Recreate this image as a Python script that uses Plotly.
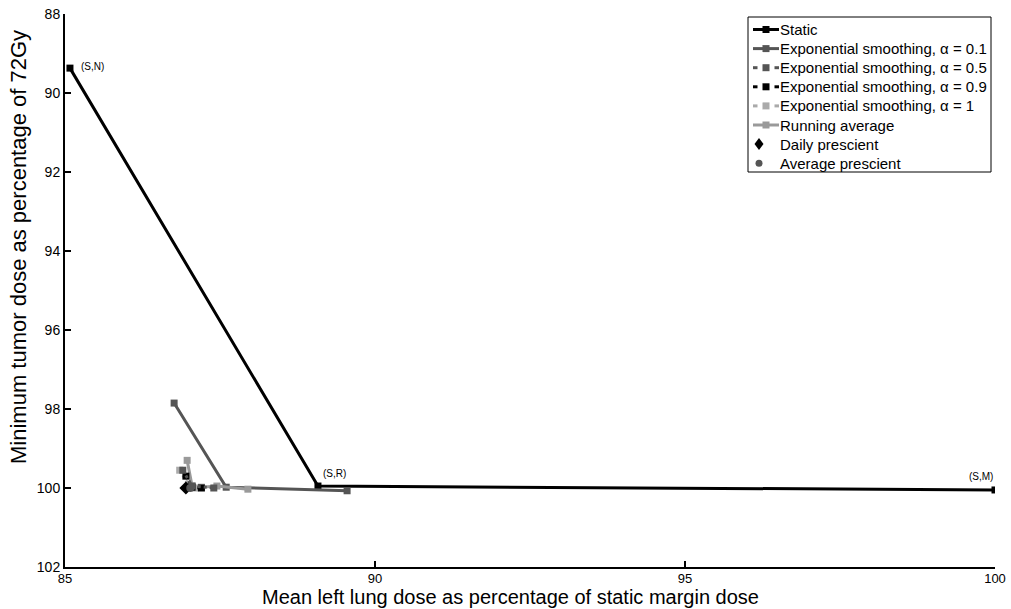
import plotly.graph_objects as go

# Data (x: mean left lung dose %, y: minimum tumor dose %)
static_x = [85.08, 89.08, 100.0]
static_y = [89.37, 99.95, 100.05]
static_labels = ["(S,N)", "(S,R)", "(S,M)"]

exp01_x = [86.76, 87.6, 89.55]
exp01_y = [97.85, 99.98, 100.07]

exp05_x = [86.9, 87.05, 87.4]
exp05_y = [99.55, 99.95, 100.0]

exp09_x = [86.95, 87.05, 87.2]
exp09_y = [99.7, 99.98, 100.0]

exp1_x = [86.85, 87.0, 87.1]
exp1_y = [99.55, 99.93, 100.0]

run_x = [86.97, 87.05, 87.2, 87.45, 87.95]
run_y = [99.3, 99.95, 99.98, 99.95, 100.03]

daily_x = [86.95]
daily_y = [100.0]

avg_x = [87.02]
avg_y = [100.0]

# Legend entries: (label, colour, kind)
legend_entries = [
    ("Static", "#000000", "solid"),
    ("Exponential smoothing, α = 0.1", "#555555", "solid"),
    ("Exponential smoothing, α = 0.5", "#555555", "dash"),
    ("Exponential smoothing, α = 0.9", "#000000", "dash"),
    ("Exponential smoothing, α = 1", "#aaaaaa", "dash"),
    ("Running average", "#9a9a9a", "solid"),
    ("Daily prescient", "#000000", "diamond"),
    ("Average prescient", "#555555", "circle"),
]

W, H = 1011, 609
ML, MR, MT, MB = 65, 16, 14, 42
PW, PH = W - ML - MR, H - MT - MB


def px(x):
    return (x - ML) / PW


def py(y):
    return (H - MB - y) / PH


fig = go.Figure()


def add_line(x, y, name, color, dash="solid", width=3):
    fig.add_trace(go.Scatter(
        x=x, y=y, name=name, mode="lines+markers", showlegend=False,
        line=dict(color=color, width=width, dash=dash),
        marker=dict(symbol="square", size=7, color=color),
    ))


add_line(static_x, static_y, "Static", "#000000")
add_line(exp01_x, exp01_y, "Exponential smoothing, α = 0.1", "#555555")
add_line(run_x, run_y, "Running average", "#9a9a9a")
add_line(exp1_x, exp1_y, "Exponential smoothing, α = 1", "#aaaaaa", "dot")
add_line(exp09_x, exp09_y, "Exponential smoothing, α = 0.9", "#000000", "dot")
add_line(exp05_x, exp05_y, "Exponential smoothing, α = 0.5", "#555555", "dot")

fig.add_trace(go.Scatter(x=daily_x, y=daily_y, name="Daily prescient", mode="markers",
                         showlegend=False,
                         marker=dict(symbol="diamond", size=10, color="#000000")))
fig.add_trace(go.Scatter(x=avg_x, y=avg_y, name="Average prescient", mode="markers",
                         showlegend=False,
                         marker=dict(symbol="circle", size=8, color="#555555")))

label_pos = {
    "(S,N)": dict(xanchor="left", yanchor="middle", xshift=9, yshift=2),
    "(S,R)": dict(xanchor="left", yanchor="bottom", xshift=3, yshift=5),
    "(S,M)": dict(xanchor="right", yanchor="bottom", xshift=0, yshift=6),
}
for x, y, t in zip(static_x, static_y, static_labels):
    fig.add_annotation(x=x, y=y, text=t, showarrow=False,
                       font=dict(size=10, color="#000000"), **label_pos[t])

# ---- custom legend box ----
shapes = []
box_l, box_t, box_r, box_b = 748, 17, 991, 172
shapes.append(dict(type="rect", xref="paper", yref="paper",
                   x0=px(box_l), x1=px(box_r), y0=py(box_b), y1=py(box_t),
                   line=dict(color="#000000", width=1), fillcolor="white", layer="above"))
row0, row_gap = 29.5, 19.1
for i, (label, color, kind) in enumerate(legend_entries):
    yc = row0 + i * row_gap
    if kind == "solid":
        shapes.append(dict(type="line", xref="paper", yref="paper",
                           x0=px(753), x1=px(779), y0=py(yc), y1=py(yc),
                           line=dict(color=color, width=3), layer="above"))
    if kind in ("solid", "dash"):
        if kind == "dash":
            for a, b in ((753, 757.5), (774.5, 779)):
                shapes.append(dict(type="line", xref="paper", yref="paper",
                                   x0=px(a), x1=px(b), y0=py(yc), y1=py(yc),
                                   line=dict(color=color, width=3), layer="above"))
        shapes.append(dict(type="rect", xref="paper", yref="paper",
                           x0=px(762.5), x1=px(769.5), y0=py(yc + 3.5), y1=py(yc - 3.5),
                           line=dict(width=0), fillcolor=color, layer="above"))
    elif kind == "diamond":
        cx = 759
        path = (f"M {px(cx)} {py(yc - 6)} L {px(cx + 4.5)} {py(yc)} "
                f"L {px(cx)} {py(yc + 6)} L {px(cx - 4.5)} {py(yc)} Z")
        shapes.append(dict(type="path", xref="paper", yref="paper", path=path,
                           line=dict(width=0), fillcolor=color, layer="above"))
    elif kind == "circle":
        cx = 759
        shapes.append(dict(type="circle", xref="paper", yref="paper",
                           x0=px(cx - 3.5), x1=px(cx + 3.5), y0=py(yc + 3.5), y1=py(yc - 3.5),
                           line=dict(width=0), fillcolor=color, layer="above"))
    fig.add_annotation(xref="paper", yref="paper", x=px(778), y=py(yc), text=label,
                       showarrow=False, xanchor="left", yanchor="middle",
                       font=dict(size=15, color="#000000"))

# axis titles as annotations
fig.add_annotation(xref="paper", yref="paper", x=px(510), y=py(597),
                   text="Mean left lung dose as percentage of static margin dose",
                   showarrow=False, xanchor="center", yanchor="middle",
                   font=dict(size=20, color="#000000"))
fig.add_annotation(xref="paper", yref="paper", x=px(18), y=py(247),
                   text="Minimum tumor dose as percentage of 72Gy", textangle=-90,
                   showarrow=False, xanchor="center", yanchor="middle",
                   font=dict(size=22, color="#000000"))

fig.update_layout(
    width=W, height=H,
    margin=dict(l=ML, r=MR, t=MT, b=MB),
    paper_bgcolor="white", plot_bgcolor="white",
    font=dict(family="Liberation Sans, Arial, sans-serif", color="#000000", size=14),
    showlegend=False,
    shapes=shapes,
)
fig.update_xaxes(
    range=[85, 100], tickvals=[85, 90, 95, 100], showgrid=False, zeroline=False,
    showline=True, linecolor="#000000", linewidth=2, ticks="inside", ticklen=6,
    tickcolor="#000000", tickwidth=2, automargin=False,
    tickfont=dict(size=13), ticklabelstandoff=-2,
)
fig.update_yaxes(
    range=[102, 88], tickvals=[88, 90, 92, 94, 96, 98, 100, 102], showgrid=False, zeroline=False,
    showline=True, linecolor="#000000", linewidth=2, ticks="inside", ticklen=6,
    tickcolor="#000000", tickwidth=2, automargin=False,
    tickfont=dict(size=14),
)

fig.write_html("out.html")
